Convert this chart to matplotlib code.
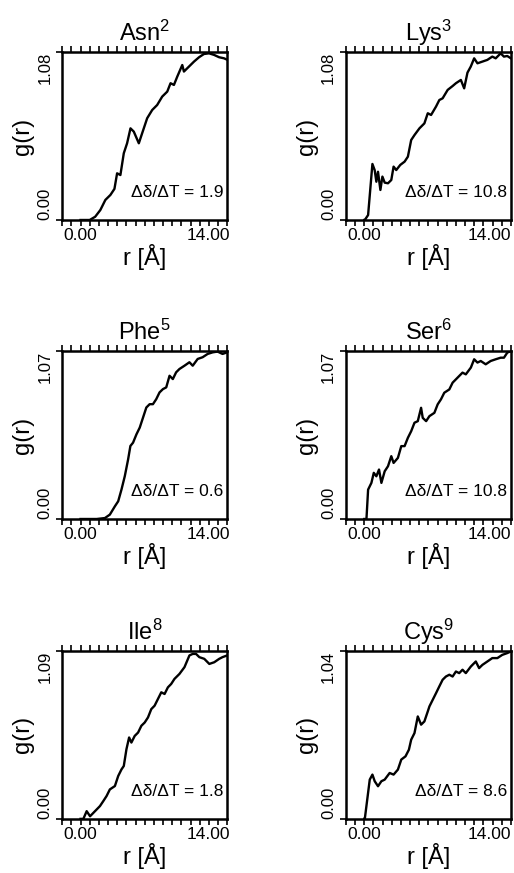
import numpy as np
import matplotlib.pyplot as plt
from matplotlib.ticker import MultipleLocator
from matplotlib.transforms import ScaledTranslation

plt.rcParams['font.family'] = ['Liberation Sans', 'DejaVu Sans']
plt.rcParams['mathtext.fontset'] = 'custom'
plt.rcParams['mathtext.rm'] = 'Liberation Sans'
plt.rcParams['mathtext.it'] = 'Liberation Sans'
plt.rcParams['mathtext.default'] = 'regular'

# noms des résidus, exposants, coefficient de température, max de l'axe g(r)
residus = ["Asn", "Lys", "Phe", "Ser", "Ile", "Cys"]
numeros = [2, 3, 5, 6, 8, 9]
ddt = ["1.9", "10.8", "0.6", "10.8", "1.8", "8.6"]
gmax = [1.08, 1.08, 1.07, 1.07, 1.09, 1.04]

r_asn = [0.0, 1.0, 1.6, 2.16, 2.71, 3.26, 3.7, 3.99, 4.35, 4.72, 5.08, 5.45, 5.81, 6.36, 6.72, 7.27,
         7.82, 8.36, 8.91, 9.46, 9.82, 10.19, 10.55, 11.1, 11.28, 11.83, 12.38, 12.93, 13.47, 14.02,
         14.57, 15.12, 15.66, 16.0]
g_asn = [0.0, 0.0, 0.021, 0.064, 0.129, 0.161, 0.2, 0.30, 0.289, 0.429, 0.493, 0.589, 0.568, 0.493,
         0.557, 0.654, 0.707, 0.739, 0.793, 0.825, 0.879, 0.868, 0.921, 0.996, 0.954, 0.986, 1.018,
         1.046, 1.067, 1.071, 1.061, 1.046, 1.039, 1.03]

r_lys = [0.0, 0.06, 0.42, 0.89, 1.14, 1.32, 1.5, 1.76, 1.98, 2.23, 2.59, 2.95, 3.2, 3.49, 3.93, 4.4,
         4.76, 5.12, 5.48, 6.02, 6.56, 6.93, 7.29, 7.83, 8.19, 8.55, 9.1, 9.64, 10.0, 10.54, 10.9,
         11.26, 11.62, 11.99, 12.35, 12.89, 13.43, 13.97, 14.34, 14.88, 15.24, 15.6, 16.0]
g_lys = [0.0, 0.0, 0.032, 0.36, 0.32, 0.246, 0.31, 0.193, 0.279, 0.24, 0.236, 0.257, 0.343, 0.321,
         0.354, 0.375, 0.407, 0.514, 0.546, 0.589, 0.621, 0.686, 0.675, 0.729, 0.771, 0.782, 0.836,
         0.861, 0.879, 0.9, 0.846, 0.947, 0.986, 1.039, 1.007, 1.018, 1.029, 1.05, 1.039, 1.071,
         1.05, 1.054, 1.039]

r_phe = [0.0, 1.76, 2.66, 3.2, 3.75, 4.11, 4.47, 4.83, 5.19, 5.44, 5.73, 6.1, 6.46, 6.82, 7.18, 7.54,
         7.9, 8.26, 8.62, 8.99, 9.35, 9.71, 10.07, 10.43, 10.79, 11.34, 11.88, 12.24, 12.78, 13.32,
         13.87, 14.41, 14.95, 15.49, 16.0]
g_phe = [0.0, 0.0, 0.006, 0.028, 0.081, 0.113, 0.188, 0.273, 0.379, 0.465, 0.486, 0.539, 0.582,
         0.646, 0.71, 0.731, 0.731, 0.763, 0.806, 0.827, 0.838, 0.912, 0.891, 0.934, 0.955, 0.976,
         0.998, 0.976, 1.019, 1.03, 1.051, 1.061, 1.066, 1.051, 1.061]

r_ser = [0.0, 0.24, 0.42, 0.78, 1.04, 1.32, 1.61, 1.87, 2.23, 2.59, 2.95, 3.2, 3.67, 4.04, 4.4, 4.76,
         5.12, 5.48, 5.84, 6.2, 6.38, 6.75, 7.11, 7.65, 8.01, 8.37, 8.73, 9.28, 9.64, 10.18, 10.72,
         11.08, 11.63, 11.99, 12.35, 12.71, 13.25, 13.79, 14.34, 14.88, 15.24, 15.6, 16.0]
g_ser = [0.0, 0.0, 0.187, 0.23, 0.294, 0.272, 0.315, 0.23, 0.304, 0.336, 0.4, 0.357, 0.389, 0.464,
         0.464, 0.517, 0.559, 0.613, 0.623, 0.708, 0.644, 0.623, 0.655, 0.676, 0.73, 0.762, 0.804,
         0.825, 0.868, 0.9, 0.932, 0.921, 0.964, 1.017, 0.996, 1.006, 0.985, 1.006, 1.017, 1.027,
         1.027, 1.059, 1.07]

r_ile = [0.0, 0.31, 0.67, 1.04, 1.4, 1.76, 2.12, 2.48, 2.84, 3.2, 3.75, 4.11, 4.47, 4.72, 5.01, 5.3,
         5.55, 5.91, 6.28, 6.64, 7.0, 7.36, 7.72, 8.08, 8.44, 8.81, 9.17, 9.53, 9.89, 10.25, 10.79,
         11.34, 11.88, 12.24, 12.6, 12.96, 13.5, 14.05, 14.59, 15.13, 15.49, 16.0]
g_ile = [0.0, 0.0, 0.05, 0.017, 0.039, 0.061, 0.083, 0.115, 0.148, 0.191, 0.213, 0.278, 0.321, 0.343,
         0.452, 0.528, 0.495, 0.538, 0.56, 0.604, 0.625, 0.658, 0.712, 0.734, 0.777, 0.821, 0.81,
         0.853, 0.875, 0.908, 0.94, 0.984, 1.06, 1.07, 1.07, 1.049, 1.038, 1.005, 1.016, 1.038,
         1.049, 1.06]

r_cys = [0.0, 0.06, 0.6, 0.89, 1.14, 1.5, 1.87, 2.23, 2.77, 3.2, 3.67, 4.04, 4.5, 4.87, 5.12, 5.48,
         5.84, 6.2, 6.56, 6.93, 7.11, 7.47, 7.83, 8.19, 8.55, 8.91, 9.28, 9.64, 10.0, 10.36, 10.72,
         11.08, 11.63, 12.17, 12.53, 12.89, 13.43, 13.97, 14.52, 15.06, 15.6, 16.0]
g_cys = [0.0, 0.0, 0.243, 0.274, 0.233, 0.202, 0.233, 0.243, 0.284, 0.274, 0.305, 0.367, 0.387,
         0.428, 0.49, 0.531, 0.634, 0.583, 0.603, 0.665, 0.696, 0.737, 0.778, 0.82, 0.861, 0.881,
         0.892, 0.881, 0.912, 0.902, 0.923, 0.902, 0.943, 0.974, 0.933, 0.953, 0.974, 0.995, 0.995,
         1.015, 1.026, 1.036]

R = [r_asn, r_lys, r_phe, r_ser, r_ile, r_cys]
G = [g_asn, g_lys, g_phe, g_ser, g_ile, g_cys]

fig = plt.figure(figsize=(5.14, 8.73), dpi=100)

lefts = [0.121, 0.673]
bottoms = [0.748, 0.4055, 0.062]
W, H = 0.321, 0.1925

for i in range(6):
    ax = fig.add_axes([lefts[i % 2], bottoms[i // 2], W, H])
    ax.plot(R[i], G[i], color='black', lw=1.7)
    ax.set_xlim(-2, 16)
    ax.set_ylim(0, gmax[i])

    ax.set_xticks([0, 14])
    ax.set_xticklabels(["0.00", "14.00"])
    ax.xaxis.set_minor_locator(MultipleLocator(1))
    ax.set_yticks([0, gmax[i]])
    ax.set_yticklabels(["0.00", "%.2f" % gmax[i]], rotation=90)

    ax.tick_params(axis='x', which='both', top=True, direction='out', length=4, width=1.2,
                   labelsize=12.5, pad=2)
    ax.tick_params(axis='y', which='major', direction='out', length=4, width=1.2,
                   labelsize=12, pad=3)
    labs = ax.get_yticklabels()
    labs[0].set_va('bottom')
    labs[1].set_va('top')
    if i % 2 == 1:
        # colonne de droite : on rentre un peu "14.00" dans la figure
        lab = ax.get_xticklabels()[1]
        lab.set_transform(lab.get_transform() + ScaledTranslation(-0.03, 0, fig.dpi_scale_trans))
    for s in ax.spines.values():
        s.set_linewidth(1.8)

    ax.set_title("%s$^{%d}$" % (residus[i], numeros[i]), fontsize=17, pad=8)
    ax.set_xlabel("r [Å]", fontsize=17)
    ax.set_ylabel("g(r)", fontsize=17)
    ax.xaxis.set_label_coords(0.5, -0.145)
    ax.yaxis.set_label_coords(-0.17, 0.5)

    ax.text(0.975, 0.165, "Δδ/ΔT = " + ddt[i], transform=ax.transAxes,
            ha='right', va='center', fontsize=12.5)

fig.savefig("out.png", dpi=100)
